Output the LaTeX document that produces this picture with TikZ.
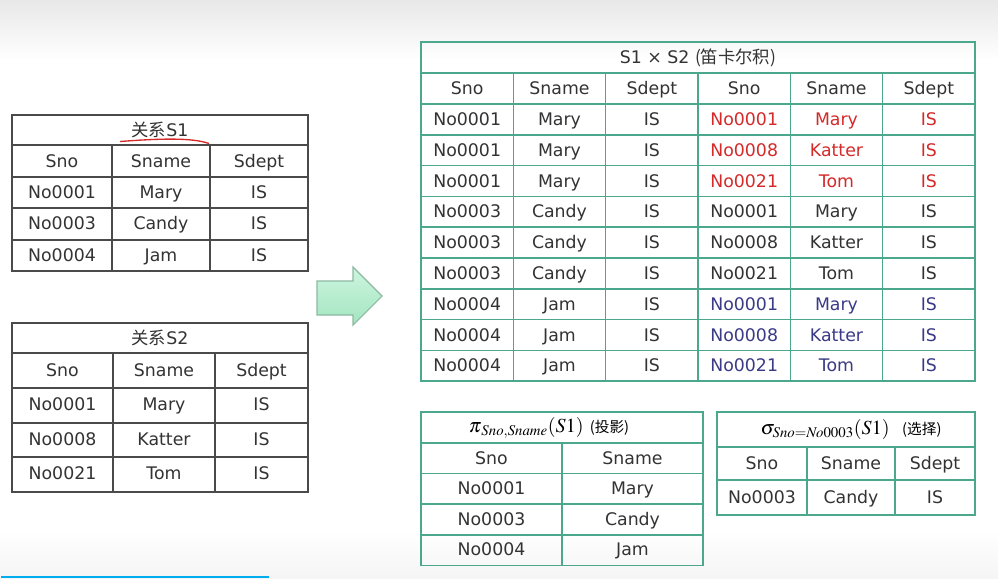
\documentclass[tikz,border=0pt]{standalone}
\usepackage{mathptmx}
\usepackage[no-math]{fontspec}
\setmainfont{DejaVu Sans}
\newfontfamily\cjk{Noto Sans CJK SC}
\usetikzlibrary{positioning}
\definecolor{gridgray}{HTML}{4A4A4A}
\definecolor{gridteal}{HTML}{4BA88C}
\definecolor{txtgray}{HTML}{333333}
\definecolor{txtred}{HTML}{D42A2A}
\definecolor{txtblue}{HTML}{3A3A86}
\definecolor{arrowtop}{HTML}{CDF5DF}
\definecolor{arrowbot}{HTML}{A3E5C0}
\definecolor{arrowline}{HTML}{8DB9A2}
\definecolor{barblue}{HTML}{00AEEF}
\tikzset{
  cell/.style={text=txtgray, font=\fontsize{13}{15}\selectfont, text height=9.4pt, text depth=0pt, inner sep=0pt},
  lgrid/.style={draw=gridgray, line width=1.1pt},
  rgrid/.style={draw=gridteal, line width=1.1pt},
}
\begin{document}
\begin{tikzpicture}[x=0.75pt, y=-0.75pt]
  % background
  \fill[white] (0,0) rectangle (998,578);
  \shade[top color=black!9, bottom color=white] (0,0) rectangle (998,60);
  \shade[top color=white, bottom color=black!4] (0,530) rectangle (998,578);
  \useasboundingbox (0,0) rectangle (998,578);

  % relation S1
  \draw[lgrid] (12,115) rectangle (308,271);
  \foreach \y in {145,177,208,240} \draw[lgrid] (12,\y) -- (308,\y);
  \foreach \x in {112,210} \draw[lgrid] (\x,145) -- (\x,271);
  \node[cell] (sa-title) at (160,130) {{\cjk 关系}S1};
  \draw[txtred, line width=1pt] (120,141.5) .. controls (160,138.5) and (192,137.5) .. (209,143.5);
  \foreach \a/\b/\c [count=\i from 0] in {Sno/Sname/Sdept, No0001/Mary/IS, No0003/Candy/IS, No0004/Jam/IS} {
    \node[cell] (sa-\i-a) at (62,161+31.3*\i) {\a};
    \node[cell] (sa-\i-b) at (161,161+31.3*\i) {\b};
    \node[cell] (sa-\i-c) at (259,161+31.3*\i) {\c};
  }

  % relation S2
  \draw[lgrid] (12,323) rectangle (308,492);
  \foreach \y in {353,388,423,457} \draw[lgrid] (12,\y) -- (308,\y);
  \foreach \x in {113,215} \draw[lgrid] (\x,353) -- (\x,492);
  \node[cell] (sb-title) at (160,338.5) {{\cjk 关系}S2};
  \foreach \a/\b/\c [count=\i from 0] in {Sno/Sname/Sdept, No0001/Mary/IS, No0008/Katter/IS, No0021/Tom/IS} {
    \node[cell] (sb-\i-a) at (62.5,370.5+34.2*\i) {\a};
    \node[cell] (sb-\i-b) at (164,370.5+34.2*\i) {\b};
    \node[cell] (sb-\i-c) at (261.5,370.5+34.2*\i) {\c};
  }

  % arrow
  \draw[arrowline, line width=0.8pt, top color=arrowtop, bottom color=arrowbot]
    (317,281) -- (353,281) -- (353,267) -- (382,296) -- (353,325) -- (353,315) -- (317,315) -- cycle;

  % S1 x S2
  \draw[rgrid] (421,42) rectangle (975,381.2);
  \draw[rgrid] (421,73) -- (975,73);
  \foreach \r in {0,...,8} \draw[rgrid] (421,104+30.8*\r) -- (975,104+30.8*\r);
  \foreach \k in {1,...,5} \draw[rgrid] (421+92.33*\k,73) -- (421+92.33*\k,381.2);
  \node[cell] (prod-title) at (698,57.5) {S1 × S2 {\cjk (笛卡尔积)}};
  \foreach \h [count=\k from 0] in {Sno,Sname,Sdept,Sno,Sname,Sdept}
    \node[cell] (prod-0-\k) at (467.2+92.33*\k,88.5) {\h};
  \foreach \a/\b/\c/\d/\e/\f/\clr [count=\i] in {
      No0001/Mary/IS/No0001/Mary/IS/txtred,
      No0001/Mary/IS/No0008/Katter/IS/txtred,
      No0001/Mary/IS/No0021/Tom/IS/txtred,
      No0003/Candy/IS/No0001/Mary/IS/txtgray,
      No0003/Candy/IS/No0008/Katter/IS/txtgray,
      No0003/Candy/IS/No0021/Tom/IS/txtgray,
      No0004/Jam/IS/No0001/Mary/IS/txtblue,
      No0004/Jam/IS/No0008/Katter/IS/txtblue,
      No0004/Jam/IS/No0021/Tom/IS/txtblue} {
    \node[cell] (prod-\i-0) at (467.2,88.5+30.8*\i) {\a};
    \node[cell] (prod-\i-1) at (559.5,88.5+30.8*\i) {\b};
    \node[cell] (prod-\i-2) at (651.8,88.5+30.8*\i) {\c};
    \node[cell, text=\clr] (prod-\i-3) at (744.2,88.5+30.8*\i) {\d};
    \node[cell, text=\clr] (prod-\i-4) at (836.5,88.5+30.8*\i) {\e};
    \node[cell, text=\clr] (prod-\i-5) at (928.8,88.5+30.8*\i) {\f};
  }

  % projection
  \draw[rgrid] (421,412) rectangle (703,565.5);
  \foreach \y in {443,473.5,504,535} \draw[rgrid] (421,\y) -- (703,\y);
  \draw[rgrid] (562,443) -- (562,565.5);
  \node[cell, text=black, text height=, text depth=] (proj-title) at (549,428)
    {\fontsize{15}{16}\selectfont$\pi_{\,\mathit{Sno},\mathit{Sname}}(S1)$\ {\fontsize{11}{12}\selectfont\cjk (投影)}};
  \foreach \a/\b [count=\i from 0] in {Sno/Sname, No0001/Mary, No0003/Candy, No0004/Jam} {
    \node[cell] (proj-\i-a) at (491.5,458+30.5*\i) {\a};
    \node[cell] (proj-\i-b) at (632.5,458+30.5*\i) {\b};
  }

  % selection
  \draw[rgrid] (717,412) rectangle (975,515);
  \foreach \y in {447,480} \draw[rgrid] (717,\y) -- (975,\y);
  \foreach \x in {807,895} \draw[rgrid] (\x,447) -- (\x,515);
  \node[cell, text=black, text height=, text depth=] (sel-title) at (851,429)
    {\fontsize{15}{16}\selectfont$\sigma_{\mathit{Sno}=\mathit{No}0003}(S1)$\ \ {\fontsize{11}{12}\selectfont\cjk (选择)}};
  \foreach \a/\b/\c [count=\i from 0] in {Sno/Sname/Sdept, No0003/Candy/IS} {
    \node[cell] (sel-\i-a) at (762,463.5+33.5*\i) {\a};
    \node[cell] (sel-\i-b) at (851,463.5+33.5*\i) {\b};
    \node[cell] (sel-\i-c) at (935,463.5+33.5*\i) {\c};
  }

  % progress bar
  \fill[barblue] (1,575.5) rectangle (269,578);
\end{tikzpicture}
\end{document}
